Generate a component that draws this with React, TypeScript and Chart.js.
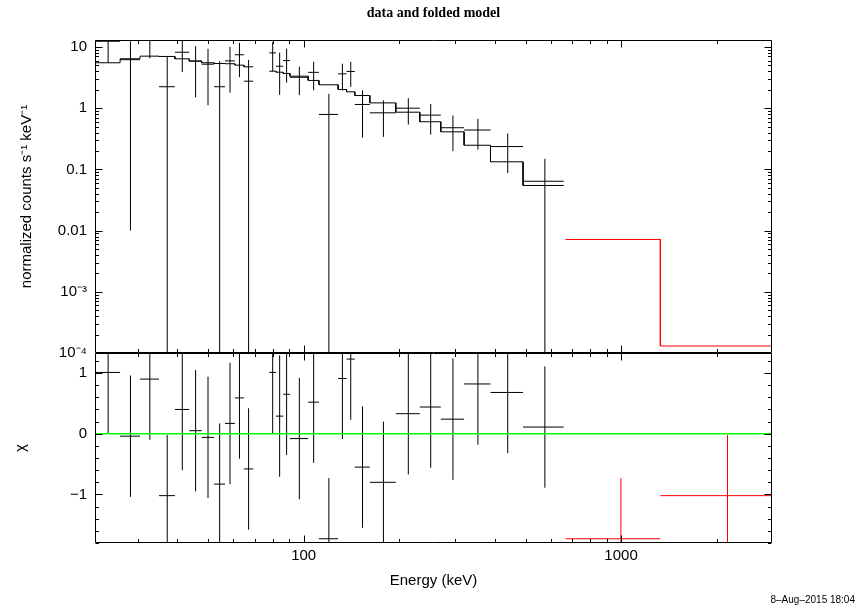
import React, { useEffect, useRef } from 'react';
import { Chart, registerables } from 'chart.js';

Chart.register(...registerables);

// ---------- data ----------
// group 1 (black): energy bins in keV
const binLo = [22.0, 26.4, 30.5, 35.0, 39.3, 43.6, 47.7, 52.2, 56.5, 60.7, 64.8, 77.9, 81.8, 86.2, 90.5, 103.3, 111.7, 128.4, 136.5, 144.9, 161.6, 195.1, 232.2, 270.4, 320.2, 387.8, 491.1];
const binHi = [26.4, 30.5, 35.0, 39.3, 43.6, 47.7, 52.2, 56.5, 60.7, 64.8, 69.3, 81.8, 86.2, 90.5, 103.3, 111.7, 128.4, 136.5, 144.9, 161.6, 195.1, 232.2, 270.4, 320.2, 387.8, 491.1, 659.7];
const dataRate = [12.4, 6.2, 13.0, 2.24, 8.2, 5.9, 5.23, 2.24, 5.93, 7.46, 2.76, 8.0, 4.85, 6.0, 3.2, 3.85, 0.79, 3.64, 3.98, 1.15, 0.84, 1.0, 0.77, 0.479, 0.44, 0.236, 0.064];
const dataErr = [6.9, 6.19, 6.5, 4.67, 4.3, 4.4, 4.12, 3.6, 4.14, 4.25, 3.4, 4.0, 3.2, 3.38, 1.57, 1.89, 0.93, 1.69, 1.75, 0.82, 0.5, 0.46, 0.40, 0.28, 0.23, 0.149, 0.085];
const modelRate = [5.52, 6.41, 7.08, 7.0, 6.4, 5.86, 5.52, 5.37, 5.32, 5.05, 4.74, 4.02, 3.87, 3.69, 3.33, 2.84, 2.41, 2.02, 1.85, 1.61, 1.22, 0.86, 0.60, 0.411, 0.248, 0.133, 0.0546];
const chiRes = [1.01, -0.04, 0.90, -1.02, 0.40, 0.05, -0.06, -0.83, 0.17, 0.59, -0.58, 1.01, 0.29, 0.65, -0.08, 0.52, -1.73, 0.91, 1.23, -0.55, -0.80, 0.33, 0.44, 0.24, 0.82, 0.68, 0.11];

// group 2 (red)
const redLo = [668, 1330];
const redHi = [1330, 3000];
const redModel = [0.00716, 0.00013];
const redChi = [-1.73, -1.02];

// axes
const X_MIN = 22;
const X_MAX = 2990;
const YTOP_MIN = 1e-4;
const YTOP_MAX = 13;
const CHI_MIN = -1.8;
const CHI_MAX = 1.33;

const topTickValues = [10, 1, 0.1, 0.01, 1e-3, 1e-4];
const topTickLabels = ['10', '1', '0.1', '0.01', '10\u207B\u00B3', '10\u207B\u2074'];
const xTickValues = [100, 1000];
const xTickLabels = ['100', '1000'];
const chiTickValues = [1, 0, -1];
const chiTickLabels = ['1', '0', '\u22121'];

const FONT = "'Liberation Sans', Arial, Helvetica, sans-serif";
const FS = 15;

// ---------- helpers ----------
type P = { x: number; y: number | null };

function stepPoints(lo: number[], hi: number[], val: number[]): P[] {
  const out: P[] = [];
  for (let i = 0; i < lo.length; i++) {
    if (i > 0 && Math.abs(lo[i] - hi[i - 1]) > 1e-6) out.push({ x: hi[i - 1], y: null });
    out.push({ x: lo[i], y: val[i] });
    out.push({ x: hi[i], y: val[i] });
  }
  return out;
}

function crossPoints(lo: number[], hi: number[], val: number[], err: number[], floor: number | null): P[] {
  const out: P[] = [];
  for (let i = 0; i < lo.length; i++) {
    const c = (lo[i] + hi[i]) / 2;
    let low = val[i] - err[i];
    if (floor !== null && low < floor) low = floor;
    out.push({ x: lo[i], y: val[i] });
    out.push({ x: hi[i], y: val[i] });
    out.push({ x: c, y: null });
    out.push({ x: c, y: low });
    out.push({ x: c, y: val[i] + err[i] });
    out.push({ x: c, y: null });
  }
  return out;
}

function labelFor(values: number[], labels: string[], v: number, log: boolean): string {
  for (let i = 0; i < values.length; i++) {
    if (log) {
      if (Math.abs(Math.log10(v) - Math.log10(values[i])) < 1e-6) return labels[i];
    } else if (Math.abs(v - values[i]) < 1e-6) return labels[i];
  }
  return '';
}

function logTicks(min: number, max: number) {
  const out: { v: number; major: boolean }[] = [];
  for (let n = Math.floor(Math.log10(min)) - 1; n <= Math.ceil(Math.log10(max)); n++) {
    for (let k = 1; k <= 9; k++) {
      const v = k * Math.pow(10, n);
      if (v >= min * 0.9999 && v <= max * 1.0001) out.push({ v, major: k === 1 });
    }
  }
  return out;
}

function linTicks(min: number, max: number, step: number) {
  const out: { v: number; major: boolean }[] = [];
  for (let k = Math.ceil(min / step - 1e-6); k * step <= max + 1e-6; k++) {
    const v = Math.round(k * step * 1000) / 1000;
    out.push({ v, major: Math.abs(v - Math.round(v)) < 1e-6 });
  }
  return out;
}

function framePlugin(yLog: boolean) {
  return {
    id: 'frameTicks',
    afterDatasetsDraw(chart: any) {
      const { ctx, chartArea: a } = chart;
      const xs = chart.scales.x;
      const ys = chart.scales.y;
      const L = Math.round(a.left) + 0.5;
      const R = Math.round(a.right) - 0.5;
      const T = Math.round(a.top) + 0.5;
      const B = Math.round(a.bottom) - 0.5;
      ctx.save();
      ctx.strokeStyle = '#000';
      ctx.lineWidth = 1;
      ctx.beginPath();
      ctx.rect(L, T, R - L, B - T);
      for (const t of logTicks(xs.min, xs.max)) {
        const px = Math.round(xs.getPixelForValue(t.v)) + 0.5;
        const len = t.major ? 7 : 3.5;
        ctx.moveTo(px, B);
        ctx.lineTo(px, B - len);
        ctx.moveTo(px, T);
        ctx.lineTo(px, T + len);
      }
      const yt = yLog ? logTicks(ys.min, ys.max) : linTicks(ys.min, ys.max, 0.2);
      for (const t of yt) {
        const py = Math.round(ys.getPixelForValue(t.v)) + 0.5;
        const len = t.major ? 7 : 3.5;
        ctx.moveTo(L, py);
        ctx.lineTo(L + len, py);
        ctx.moveTo(R, py);
        ctx.lineTo(R - len, py);
      }
      ctx.stroke();
      ctx.restore();
    },
  };
}

const common = {
  responsive: false,
  animation: false as const,
  devicePixelRatio: 1,
  events: [] as any[],
  plugins: { legend: { display: false }, tooltip: { enabled: false }, title: { display: false } },
};

export default function App() {
  const topRef = useRef<HTMLCanvasElement>(null);
  const botRef = useRef<HTMLCanvasElement>(null);

  useEffect(() => {
    Chart.defaults.font.family = FONT;
    Chart.defaults.color = '#000';

    const topChart = new Chart(topRef.current as HTMLCanvasElement, {
      type: 'line',
      data: {
        datasets: [
          {
            data: crossPoints(binLo, binHi, dataRate, dataErr, 1e-7) as any,
            borderColor: '#000',
            borderWidth: 1,
            pointRadius: 0,
            order: 1,
          },
          {
            data: stepPoints(binLo, binHi, modelRate) as any,
            borderColor: '#000',
            borderWidth: 1,
            pointRadius: 0,
            order: 2,
          },
          {
            data: stepPoints(redLo, redHi, redModel) as any,
            borderColor: '#ff0000',
            borderWidth: 1,
            pointRadius: 0,
            order: 3,
          },
        ],
      },
      options: {
        ...common,
        layout: { padding: { left: 0, top: 40, right: 86, bottom: 256 } },
        scales: {
          x: { type: 'logarithmic', min: X_MIN, max: X_MAX, display: false },
          y: {
            type: 'logarithmic',
            min: YTOP_MIN,
            max: YTOP_MAX,
            position: 'left',
            grid: { display: false, drawTicks: false },
            border: { display: false },
            ticks: {
              autoSkip: false,
              padding: 8,
              font: { size: FS },
              color: '#000',
              callback: (v: any) => labelFor(topTickValues, topTickLabels, Number(v), true),
            },
            title: {
              display: true,
              text: 'normalized counts s\u207B\u00B9 keV\u207B\u00B9',
              font: { size: FS },
              color: '#000',
              padding: { top: 18, bottom: 0 },
            },
            afterFit: (s: any) => {
              s.width = 95;
            },
          },
        },
      } as any,
      plugins: [framePlugin(true)],
    });

    const botChart = new Chart(botRef.current as HTMLCanvasElement, {
      type: 'line',
      data: {
        datasets: [
          {
            data: [{ x: 10, y: 0 }, { x: 10000, y: 0 }],
            borderColor: '#00ff00',
            borderWidth: 1.6,
            pointRadius: 0,
            order: 0,
          },
          {
            data: crossPoints(binLo, binHi, chiRes, chiRes.map(() => 1), null) as any,
            borderColor: '#000',
            borderWidth: 1,
            pointRadius: 0,
            order: 1,
          },
          {
            data: crossPoints(redLo, redHi, redChi, redChi.map(() => 1), null) as any,
            borderColor: '#ff0000',
            borderWidth: 1,
            pointRadius: 0,
            order: 2,
          },
        ],
      },
      options: {
        ...common,
        layout: { padding: { left: 0, top: 353, right: 86, bottom: 0 } },
        scales: {
          x: {
            type: 'logarithmic',
            min: X_MIN,
            max: X_MAX,
            position: 'bottom',
            grid: { display: false, drawTicks: false },
            border: { display: false },
            ticks: {
              autoSkip: false,
              maxRotation: 0,
              minRotation: 0,
              padding: 4,
              font: { size: FS },
              color: '#000',
              callback: (v: any) => labelFor(xTickValues, xTickLabels, Number(v), true),
            },
            title: {
              display: true,
              text: 'Energy (keV)',
              font: { size: FS },
              color: '#000',
              padding: { top: 0, bottom: 19 },
            },
            afterFit: (s: any) => {
              s.height = 66;
            },
          },
          y: {
            type: 'linear',
            min: CHI_MIN,
            max: CHI_MAX,
            position: 'left',
            grid: { display: false, drawTicks: false },
            border: { display: false },
            ticks: {
              stepSize: 1,
              autoSkip: false,
              padding: 8,
              font: { size: FS },
              color: '#000',
              callback: (v: any) => labelFor(chiTickValues, chiTickLabels, Number(v), false),
            },
            title: {
              display: true,
              text: '\u03C7',
              font: { size: FS },
              color: '#000',
              padding: { top: 12, bottom: 0 },
            },
            afterFit: (s: any) => {
              s.width = 95;
            },
          },
        },
      } as any,
      plugins: [framePlugin(false)],
    });

    return () => {
      topChart.destroy();
      botChart.destroy();
    };
  }, []);

  return (
    <div
      style={{
        position: 'absolute',
        left: 0,
        top: 0,
        width: 858,
        height: 609,
        background: '#fff',
        overflow: 'hidden',
      }}
    >
      <canvas ref={topRef} width={858} height={609} style={{ position: 'absolute', left: 0, top: 0 }} />
      <canvas ref={botRef} width={858} height={609} style={{ position: 'absolute', left: 0, top: 0 }} />
      <div
        style={{
          position: 'absolute',
          left: 95,
          width: 677,
          top: 5,
          textAlign: 'center',
          font: "bold 14px 'Liberation Serif', 'Times New Roman', serif",
          lineHeight: '16px',
          color: '#000',
        }}
      >
        data and folded model
      </div>
      <div
        style={{
          position: 'absolute',
          right: 3,
          top: 594,
          font: "10px 'Liberation Sans', Arial, sans-serif",
          lineHeight: '12px',
          color: '#000',
          whiteSpace: 'nowrap',
        }}
      >
        8–Aug–2015 18:04
      </div>
    </div>
  );
}
